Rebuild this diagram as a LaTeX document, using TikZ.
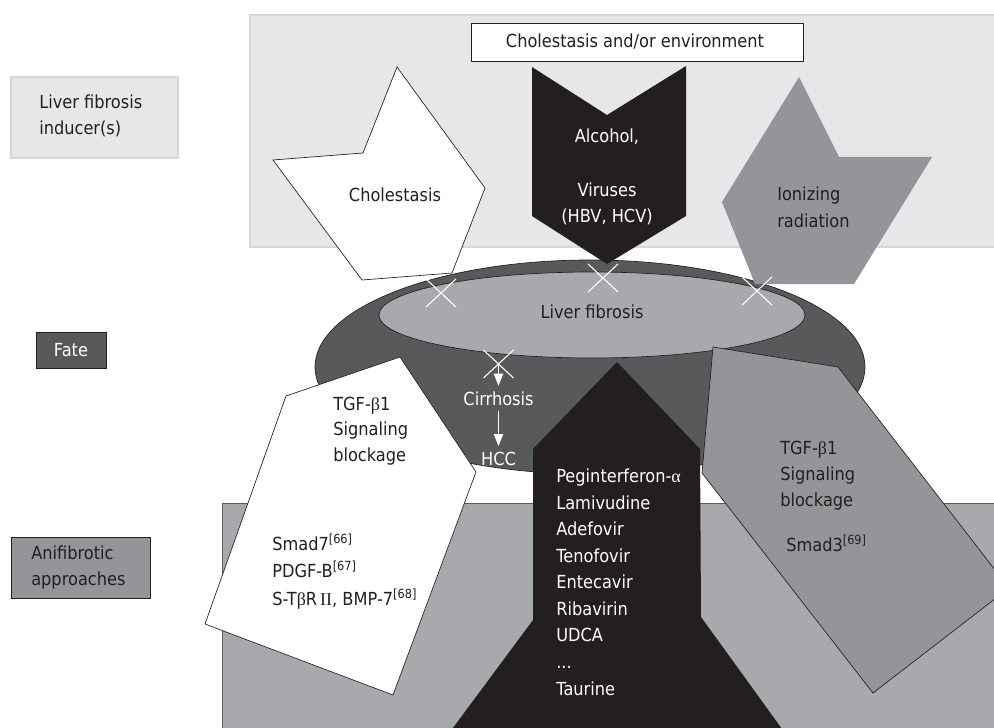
\documentclass[tikz,border=0pt]{standalone}
\usepackage{fontspec}
\setmainfont{DejaVu Sans}[FakeStretch=0.9]
\newfontfamily\grk{Liberation Serif}
\usetikzlibrary{arrows.meta}
\definecolor{ink}{HTML}{231F20}
\definecolor{bglight}{HTML}{E6E7E8}
\definecolor{bgedge}{HTML}{D6D7D9}
\definecolor{midgrey}{HTML}{939598}
\definecolor{lightgrey}{HTML}{A7A9AC}
\definecolor{darkgrey}{HTML}{58595B}
\tikzset{
  txt/.style={font=\fontsize{13.5}{19.9}\selectfont, text=ink, inner sep=0pt},
  wtxt/.style={txt, text=white},
  thinline/.style={draw=ink, line width=0.5pt},
  xcross/.pic={\draw[white, line width=0.8pt] (-15,-14) -- (15,14) (-15,14) -- (15,-14);},
  warrow/.style={draw=white, line width=0.8pt, -{Triangle[width=7pt,length=9pt]}, fill=white}
}
\begin{document}
\begin{tikzpicture}[x=0.75pt,y=-0.75pt]
\useasboundingbox (0,0) rectangle (994,727);
\clip (0,0) rectangle (994,727);

% top background band
\draw[draw=bgedge, fill=bglight, line width=1.5pt] (250,15) rectangle (1005,247);

% left labels
\draw[draw=bgedge, fill=bglight, line width=1pt] (11,77) rectangle (178,158);
\node[txt, anchor=base west, align=left] (inducer) at (39,135) {Liver fibrosis\\inducer(s)};
\draw[thinline, fill=darkgrey] (36,332) rectangle (106,368);
\node[wtxt, anchor=base] (fate) at (71,356) {Fate};
\draw[thinline, fill=midgrey] (11,537) rectangle (150,598);
\node[txt, anchor=base west, align=left, font=\fontsize{13.5}{18.8}\selectfont] (anti) at (31,585) {Anifibrotic\\approaches};

% top title box
\draw[thinline, fill=white] (471,23) rectangle (803,61);
\node[txt, anchor=base] (env) at (635,48) {Cholestasis and/or environment};

% fate bowl
\draw[thinline, fill=darkgrey] (590,367) ellipse [x radius=206.25pt, y radius=80.25pt];
\draw[thinline, fill=lightgrey] (592,315) ellipse [x radius=159.75pt, y radius=32.25pt];
\node[txt, anchor=base] (fib) at (592,318) {Liver fibrosis};

% inducers
\draw[thinline, fill=white] (397,67) -- (485,188) -- (452,273) -- (362,280) -- (273,160) -- (363,153) -- cycle;
\node[txt, anchor=base] (chol) at (395,202) {Cholestasis};
\fill[ink] (532,67) -- (607,115) -- (686,66) -- (686,216) -- (607,264) -- (532,216) -- cycle;
\node[wtxt, anchor=base] (alc) at (607,143) {Alcohol,};
\node[wtxt, anchor=base, align=center] (vir) at (607,223) {Viruses\\(HBV, HCV)};
\fill[midgrey] (799,77) -- (839,157) -- (932,157) -- (854,284) -- (755,284) -- (722,202) -- cycle;
\node[txt, anchor=base west, align=left] (ion) at (777,227) {Ionizing\\radiation};

% antifibrotic band
\draw[draw=darkgrey, fill=lightgrey, line width=0.6pt] (222,503) rectangle (1005,740);

% left white pentagon
\draw[thinline, fill=white] (400,357) -- (286,396) -- (205,624) -- (393,695) -- (476,472) -- cycle;
\node[txt, anchor=base west, align=left, font=\fontsize{13.5}{19.1}\selectfont] (tgfl) at (333,461) {TGF-{\grk β}1\\Signaling\\blockage};
\node[txt, anchor=base west, align=left, font=\fontsize{13.5}{20.6}\selectfont] (smad7) at (272,605)
  {Smad7\textsuperscript{[66]}\\PDGF-B\textsuperscript{[67]}\\S-T{\grk β}R\,{\grk II}, BMP-7\textsuperscript{[68]}};

% black drug arrow
\fill[ink] (617,362) -- (700,449) -- (701,617) -- (790,740) -- (444,740) -- (533,620) -- (533,449) -- cycle;
\node[wtxt, anchor=base west, align=left] (drugs) at (556,695)
  {Peginterferon-{\grk α}\\Lamivudine\\Adefovir\\Tenofovir\\Entecavir\\Ribavirin\\UDCA\\...\\Taurine};

% right grey pentagon
\draw[thinline, fill=midgrey] (713,347) -- (838,367) -- (1009,588) -- (873,693) -- (702,473) -- cycle;
\node[txt, anchor=base west, align=left, font=\fontsize{13.5}{19.5}\selectfont] (tgfr) at (780,506) {TGF-{\grk β}1\\Signaling\\blockage};
\node[txt, anchor=base west] (smad3) at (786,551) {Smad3\textsuperscript{[69]}};

% crosses
\pic (xa) at (441,293) {xcross};
\pic (xb) at (603,278) {xcross};
\pic (xc) at (757,291) {xcross};
\coordinate (xm4) at (498.5,364);
\pic (xd) at (xm4) {xcross};

% fate progression
\node[wtxt, anchor=base, inner sep=4pt] (cirr) at (498.5,405) {Cirrhosis};
\node[wtxt, anchor=base, inner sep=4pt] (hcc) at (498.5,465) {HCC};
\draw[warrow] (xm4) -- (cirr.north);
\draw[warrow] (cirr.south) -- (hcc.north);
\end{tikzpicture}
\end{document}
